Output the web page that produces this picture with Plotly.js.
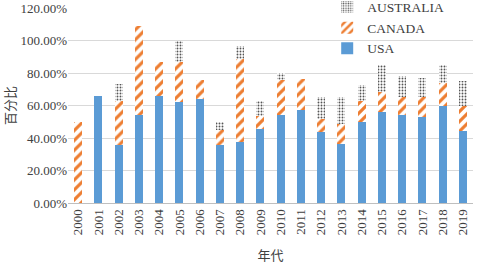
<!DOCTYPE html>
<html><head><meta charset="utf-8">
<script src="https://cdn.plot.ly/plotly-3.0.1.min.js"></script>
<style>html,body{margin:0;padding:0;background:#fff}#c{width:481px;height:264px}</style>
</head><body><div id="c"></div>
<script>
const years = ['2000','2001','2002','2003','2004','2005','2006','2007','2008','2009','2010','2011','2012','2013','2014','2015','2016','2017','2018','2019'];
const usa =       [0, 66, 36, 54, 66, 62, 64, 36, 37.5, 45.5, 54, 57, 44, 36.5, 50, 56, 54, 53, 60, 44.5];
const canada =    [50, 0, 27, 55, 21, 25, 12, 9, 51, 8, 22, 19.5, 8, 12, 12.5, 12.5, 11, 12.5, 14, 15.5];
const australia = [0, 0, 10, 0, 0, 13, 0, 5, 8, 9, 4, 0, 13, 17, 10, 16.5, 13, 11.5, 11, 15];
const toFrac = a => a.map(v => v / 100);
const f = (fam, size) => ({family: fam, size: size, color: '#404040'});
const SERIF = 'Liberation Serif';
const CJK = 'Noto Sans CJK SC';
const data = [
  {type: 'bar', name: 'USA', x: years, y: toFrac(usa), marker: {color: '#5B9BD5'}},
  {type: 'bar', name: 'CANADA', x: years, y: toFrac(canada),
   marker: {color: '#ffffff', pattern: {shape: '/', fgcolor: '#ED7D31', bgcolor: '#ffffff', size: 7, solidity: 0.45}}},
  {type: 'bar', name: 'AUSTRALIA', x: years, y: toFrac(australia),
   marker: {color: '#ffffff', pattern: {shape: '.', fgcolor: '#555555', bgcolor: '#ffffff', size: 3, solidity: 0.3}}}
];
const layout = {
  width: 481, height: 264,
  margin: {l: 68, r: 8, t: 8, b: 61, autoexpand: false},
  barmode: 'stack', bargap: 0.6,
  paper_bgcolor: '#fff', plot_bgcolor: '#fff',
  font: f(SERIF, 13),
  showlegend: true,
  legend: {x: 0.64, y: 1.083, xanchor: 'left', yanchor: 'top', traceorder: 'reversed',
    bgcolor: 'rgba(0,0,0,0)', font: f(SERIF, 13.5), itemwidth: 30, tracegroupgap: 0},
  xaxis: {type: 'category', tickangle: -90, tickfont: f(SERIF, 13),
    showgrid: false, showline: true, linecolor: '#bfbfbf', ticks: '',
    title: {text: '年代', font: f(CJK, 13), standoff: 16}},
  yaxis: {range: [0, 1.2], dtick: 0.2, tickformat: '.2%', gridcolor: '#d9d9d9',
    zeroline: false, showline: false, ticks: '', tickfont: f(SERIF, 13),
    title: {text: '百分比', font: f(CJK, 13), standoff: 6}}
};
Plotly.newPlot('c', data, layout, {displayModeBar: false, staticPlot: true});
</script></body></html>
